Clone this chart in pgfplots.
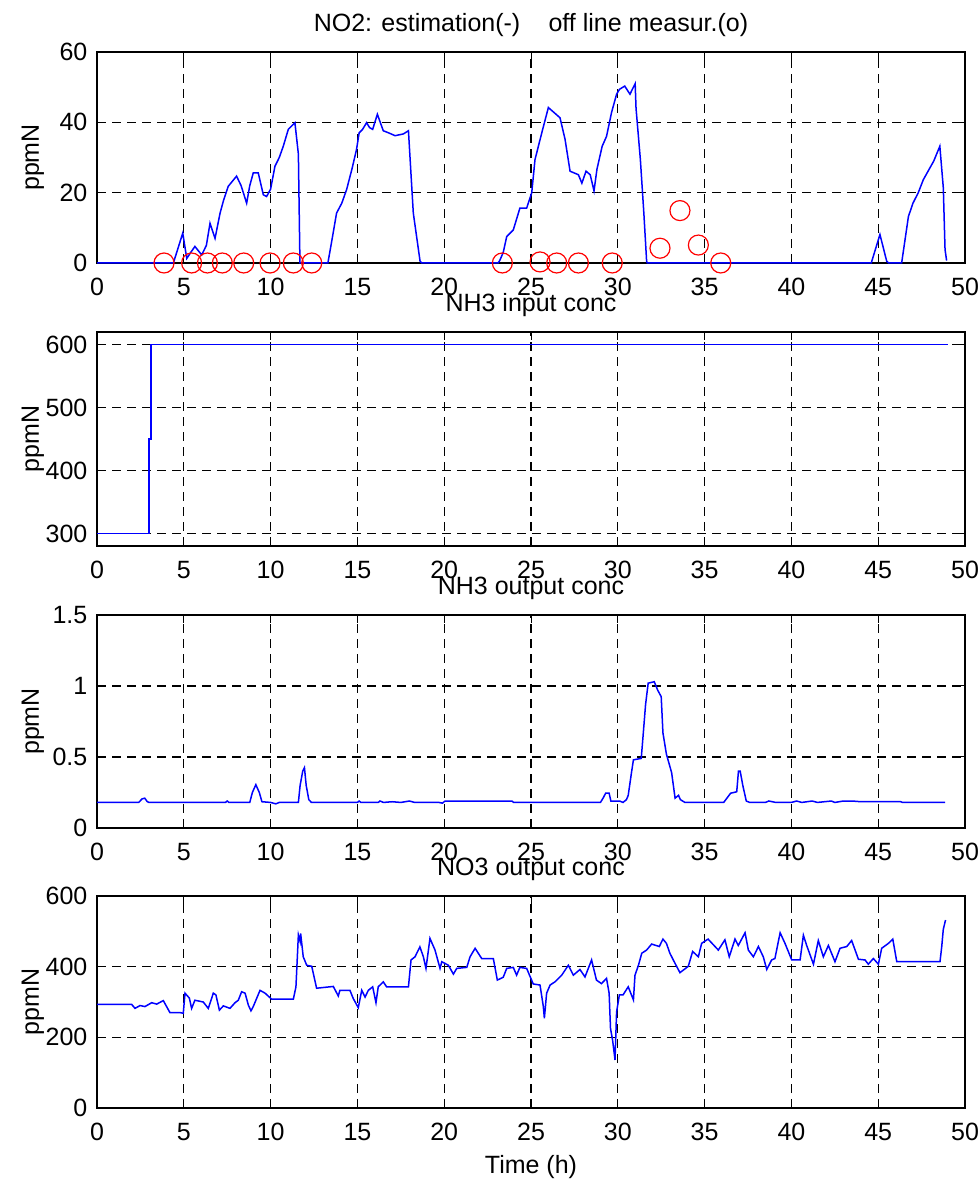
\documentclass[border=0pt]{standalone}
\usepackage{fontspec}
\setmainfont{Liberation Sans}
\usepackage{pgfplots}
\pgfplotsset{compat=1.18}

\newcommand{\mfont}{\fontsize{12.5}{15}\selectfont}

\pgfplotsset{
  mpanel/.style={
    scale only axis, width=434pt,
    xmin=0, xmax=50, xtick={0,5,...,50},
    clip=false,
    grid=major,
    major grid style={black, line width=0.65pt, dash pattern=on 4.5pt off 3pt},
    axis line style={black, line width=0.7pt},
    tick style={black, line width=0.5pt},
    tick align=inside, major tick length=4pt,
    ticklabel style={font=\mfont},
    /pgf/number format/assume math mode=true,
    xticklabel style={yshift=-4pt},
    yticklabel style={xshift=-1.3pt},
    title style={font=\mfont, at={(0.5,1)}, anchor=base, yshift=4pt},
    ylabel={ppmN},
    label style={font=\mfont},
    ylabel style={at={(axis description cs:-0.074,0.5)}, anchor=center},
  },
  blueline/.style={color={rgb,255:red,0;green,0;blue,255}, line width=0.75pt, mark=none},
}

\begin{document}
\begin{tikzpicture}
\path[use as bounding box] (0,0) rectangle (489.5pt,591pt);

% NO2
\begin{axis}[mpanel, at={(48.5pt,459.5pt)}, anchor=south west, height=105.5pt,
  ymin=0, ymax=60, ytick={0,20,40,60},
  title={NO2: estimation(-)\hspace{0.85em} off line measur.(o)}]
\addplot[blueline] coordinates {(0,0)(4.4,0)(4.94,8.5)(5.17,1.3)(5.4,3.0)(5.64,4.7)(6.03,2.3)(6.3,5)(6.51,11.3)(6.8,7.0)(7.09,14.2)(7.3,18)(7.56,21.8)(8.04,24.7)(8.3,22)(8.62,17)(8.8,22)(9.0,25.6)(9.29,25.6)(9.58,19.4)(9.77,18.9)(10.0,21)(10.25,27.5)(10.5,30)(10.73,33.2)(11.02,38)(11.4,39.9)(11.6,31)(11.69,0)(13.3,0)(13.55,7)(13.8,14.2)(14.1,17)(14.38,20.9)(14.7,27)(14.95,32.3)(15.1,37)(15.3,38)(15.53,39.9)(15.7,38.5)(15.88,38)(16.15,42.3)(16.49,37.6)(16.8,37)(17.17,36.2)(17.65,36.7)(17.94,37.6)(18.22,14.2)(18.61,0.5)(18.7,0)(23.1,0)(23.2,0.7)(23.4,3)(23.6,7.5)(23.98,9.4)(24.36,15.6)(24.75,15.6)(25.04,19.9)(25.23,29.4)(25.62,37)(26.0,44.2)(26.67,41.3)(26.96,35.2)(27.25,26.1)(27.73,25.1)(27.93,22.7)(28.17,26.1)(28.41,25.1)(28.63,20.5)(28.8,26.7)(29.1,33.2)(29.35,36)(29.64,42.8)(29.93,48)(30.1,49.4)(30.4,50.3)(30.7,48)(30.9,50)(31.0,51)(31.05,44)(31.3,29.4)(31.5,14.2)(31.66,0.5)(31.7,0)(44.6,0)(45.1,8.1)(45.49,0.5)(45.6,0)(46.35,0)(46.74,13.2)(47.0,17)(47.3,19.9)(47.6,23.7)(48.2,29)(48.55,33.2)(48.75,21.4)(48.85,3.8)(48.94,0.7)};
\addplot[only marks, mark=o, red, mark size=5pt, line width=0.6pt] coordinates {(3.86,0)(5.45,0)(6.36,0)(7.22,0)(8.45,0)(9.97,0)(11.31,0)(12.37,0)(23.35,0)(25.52,0.3)(26.48,0)(27.73,0)(29.68,0)(32.43,4.2)(33.58,14.9)(34.64,5.1)(35.93,0)};
\end{axis}

% NH3 input
\begin{axis}[mpanel, at={(48.5pt,318pt)}, anchor=south west, height=107pt,
  ymin=280, ymax=620, ytick={300,400,500,600},
  title={NH3 input conc}]
\addplot[blueline] coordinates {(0,300)(3.0,300)(3.0,450)(3.12,450)(3.12,600)(49,600)};
\end{axis}

% NH3 output
\begin{axis}[mpanel, at={(48.5pt,177pt)}, anchor=south west, height=106.5pt,
  ymin=0, ymax=1.5, ytick={0,0.5,1,1.5},
  title={NH3 output conc}]
\addplot[blueline] coordinates {(0,0.18)(2.4,0.18)(2.6,0.205)(2.75,0.21)(2.9,0.185)(3.0,0.18)(7.4,0.18)(7.5,0.19)(7.6,0.18)(8.8,0.18)(8.95,0.25)(9.15,0.305)(9.35,0.25)(9.5,0.185)(10.0,0.18)(10.3,0.17)(10.5,0.18)(11.6,0.18)(11.7,0.3)(11.85,0.4)(11.95,0.425)(12.05,0.3)(12.2,0.2)(12.35,0.18)(15.0,0.18)(15.1,0.19)(15.2,0.18)(16.2,0.18)(16.3,0.19)(16.5,0.18)(17.0,0.185)(17.5,0.18)(18.0,0.19)(18.3,0.18)(19.7,0.18)(19.9,0.175)(20.05,0.19)(23.9,0.19)(24.0,0.18)(29.0,0.18)(29.15,0.21)(29.3,0.245)(29.5,0.245)(29.6,0.19)(30.1,0.19)(30.3,0.18)(30.5,0.2)(30.6,0.23)(30.8,0.4)(30.9,0.48)(31.35,0.49)(31.45,0.64)(31.6,0.87)(31.75,1.02)(32.1,1.03)(32.3,0.97)(32.5,0.925)(32.6,0.67)(32.8,0.52)(33.1,0.39)(33.3,0.21)(33.5,0.23)(33.6,0.2)(33.87,0.18)(36.1,0.18)(36.5,0.245)(36.85,0.255)(36.95,0.4)(37.05,0.4)(37.2,0.3)(37.4,0.19)(37.6,0.18)(38.5,0.18)(38.7,0.19)(39.1,0.18)(40.0,0.18)(40.3,0.19)(40.6,0.18)(41.2,0.19)(41.5,0.18)(42.3,0.19)(42.5,0.18)(43.0,0.19)(43.5,0.19)(44.0,0.185)(46.3,0.185)(46.4,0.18)(48.85,0.18)};
\end{axis}

% NO3 output
\begin{axis}[mpanel, at={(48.5pt,37pt)}, anchor=south west, height=106pt,
  ymin=0, ymax=600, ytick={0,200,400,600},
  title={NO3 output conc},
  xlabel={Time (h)},
  xlabel style={at={(axis description cs:0.5,0)}, anchor=base, yshift=-32.5pt}]
\addplot[blueline] coordinates {(0,293)(2.0,293)(2.19,282)(2.48,290)(2.76,287)(3.15,298)(3.44,294)(3.82,304)(4.2,270)(4.78,270)(4.97,268)(5.07,325)(5.32,311)(5.45,282)(5.64,305)(6.12,300)(6.41,282)(6.7,325)(6.85,320)(7.05,277)(7.28,289)(7.66,282)(7.95,298)(8.14,305)(8.33,329)(8.53,325)(8.72,291)(8.87,275)(9.0,287)(9.39,333)(9.68,325)(10.06,308)(11.31,308)(11.46,343)(11.6,490)(11.7,471)(11.73,494)(11.88,428)(12.08,404)(12.37,401)(12.65,339)(13.61,344)(13.9,317)(13.99,333)(14.57,333)(14.76,310)(15.05,284)(15.25,333)(15.44,314)(15.63,333)(15.88,343)(16.07,298)(16.2,343)(16.49,357)(16.68,343)(17.94,343)(18.09,419)(18.32,428)(18.6,456)(18.8,428)(18.95,395)(19.18,480)(19.47,447)(19.76,395)(19.86,414)(20.24,404)(20.53,379)(20.72,395)(21.3,398)(21.49,428)(21.78,452)(22.16,423)(22.83,423)(23.06,362)(23.4,370)(23.6,395)(23.98,398)(24.17,376)(24.36,398)(24.75,395)(25.13,351)(25.52,348)(25.71,287)(25.77,254)(25.9,325)(26.1,348)(26.38,357)(26.77,376)(27.15,404)(27.44,376)(27.82,392)(28.11,371)(28.49,419)(28.77,362)(29.06,352)(29.35,367)(29.5,325)(29.58,225)(29.7,192)(29.84,136)(29.93,272)(30.09,320)(30.3,320)(30.6,343)(30.9,306)(30.99,376)(31.19,404)(31.38,438)(31.66,447)(31.95,464)(32.39,457)(32.6,478)(32.8,466)(33.0,438)(33.29,410)(33.58,383)(34.06,401)(34.31,443)(34.64,428)(34.83,466)(35.2,478)(35.79,447)(36.17,476)(36.42,428)(36.75,478)(36.94,460)(37.33,496)(37.52,447)(37.81,428)(38.1,457)(38.38,428)(38.58,392)(38.86,419)(39.05,423)(39.35,496)(39.63,466)(40.02,419)(40.5,419)(40.69,489)(40.88,460)(41.27,407)(41.55,474)(41.84,428)(42.13,460)(42.51,414)(42.8,452)(43.19,457)(43.47,474)(43.86,421)(44.24,419)(44.43,407)(44.72,423)(45.01,407)(45.2,452)(45.59,466)(45.84,478)(46.07,414)(48.56,414)(48.66,457)(48.75,506)(48.88,532)};
\end{axis}
\end{tikzpicture}
\end{document}
